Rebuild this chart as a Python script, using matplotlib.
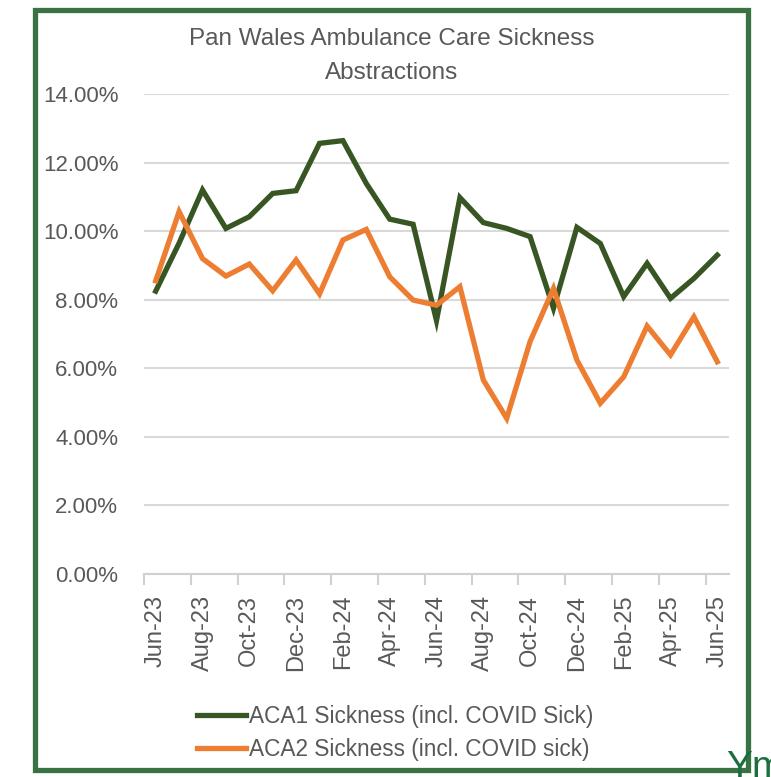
import matplotlib
matplotlib.use("Agg")
import matplotlib.pyplot as plt
from matplotlib.patches import Rectangle
from matplotlib.ticker import FixedLocator, FuncFormatter

plt.rcParams["font.family"] = ["Liberation Sans", "DejaVu Sans"]

months = ["Jun-23", "Jul-23", "Aug-23", "Sep-23", "Oct-23", "Nov-23", "Dec-23",
          "Jan-24", "Feb-24", "Mar-24", "Apr-24", "May-24", "Jun-24", "Jul-24",
          "Aug-24", "Sep-24", "Oct-24", "Nov-24", "Dec-24", "Jan-25", "Feb-25",
          "Mar-25", "Apr-25", "May-25", "Jun-25"]
aca1 = [8.25, 9.65, 11.20, 10.08, 10.42, 11.10, 11.18, 12.56, 12.64, 11.39,
        10.35, 10.20, 7.39, 10.98, 10.25, 10.08, 9.84, 7.75, 10.11, 9.64,
        8.09, 9.06, 8.04, 8.62, 9.30]
aca2 = [8.55, 10.57, 9.20, 8.69, 9.04, 8.26, 9.16, 8.17, 9.74, 10.05,
        8.67, 7.99, 7.84, 8.38, 5.66, 4.54, 6.78, 8.33, 6.24, 4.98,
        5.75, 7.23, 6.39, 7.50, 6.19]
yticks = [0, 2, 4, 6, 8, 10, 12, 14]

GREEN = "#375623"
ORANGE = "#ed7d31"
TXT = "#595959"

W, H = 771, 777
fig = plt.figure(figsize=(W / 100, H / 100), dpi=100)
ax = fig.add_axes([144 / W, 1 - 574 / H, 585 / W, 480 / H])

x = list(range(len(months)))
l1, = ax.plot(x, aca1, color=GREEN, lw=3.8, solid_joinstyle="miter")
l2, = ax.plot(x, aca2, color=ORANGE, lw=3.8, solid_joinstyle="miter")

ax.set_xlim(-0.5, len(months) - 0.5)
ax.set_ylim(0, 14)
ax.set_yticks(yticks)
ax.yaxis.set_major_formatter(FuncFormatter(lambda v, p: f"{v:.2f}%"))
ax.grid(axis="y", color="#d9d9d9", lw=1.5)
ax.set_axisbelow(True)
for s in ["top", "right", "left"]:
    ax.spines[s].set_visible(False)
ax.spines["bottom"].set_color("#d0d0d0")
ax.spines["bottom"].set_linewidth(1.5)
ax.tick_params(axis="y", length=0, pad=18.5, labelsize=16, labelcolor=TXT)

# labels every other month, tick marks between categories
ax.set_xticks(x[::2])
ax.set_xticklabels(months[::2], rotation=90)
ax.xaxis.set_minor_locator(FixedLocator([i - 0.5 for i in x[::2]]))
ax.tick_params(axis="x", which="major", length=0, pad=15, labelsize=17, labelcolor=TXT)
ax.tick_params(axis="x", which="minor", length=8, width=1.5, color="#d0d0d0")

fig.text(392 / W, 1 - 56 / H, "Pan Wales Ambulance Care Sickness\nAbstractions",
         ha="center", va="center", fontsize=17.5, color=TXT, linespacing=1.65)

fig.legend([l1, l2], ["ACA1 Sickness (incl. COVID Sick)", "ACA2 Sickness (incl. COVID sick)"],
           loc="center left", bbox_to_anchor=(197 / W, 1 - 733 / H), frameon=False,
           fontsize=16.3, labelcolor=TXT, handlelength=2.15, handletextpad=0.13,
           labelspacing=0.45, borderpad=0, borderaxespad=0)

fig.patches.append(Rectangle((35 / W, 1 - 770 / H), 713 / W, 760 / H,
                             transform=fig.transFigure, fill=False,
                             edgecolor="#3a7343", lw=3.8))
# partly cut-off text in the bottom-right corner of the source image
fig.text(726 / W, 1 - 750 / H, "Ym", fontsize=28, color="#1d6e3f", va="top", ha="left")

fig.savefig("out.png", dpi=100)
